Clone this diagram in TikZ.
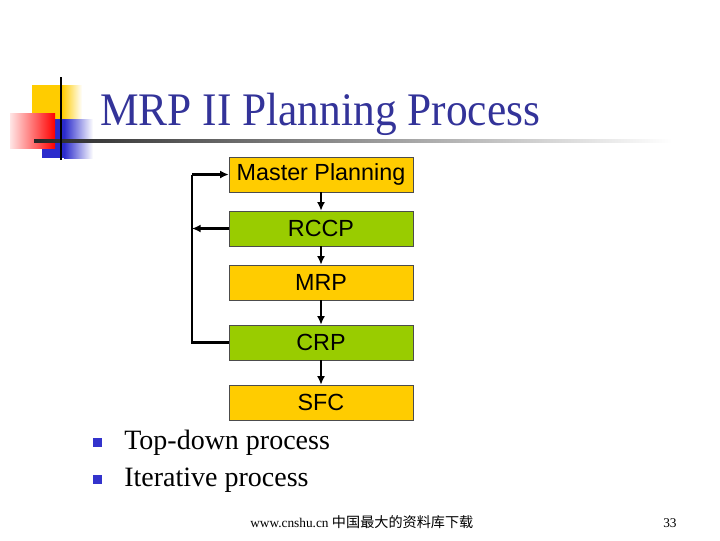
\documentclass[tikz,border=0pt]{standalone}
\usepackage{fontspec}
\setmainfont{Liberation Serif}
\newfontfamily\boxfont{Liberation Sans}
\newfontfamily\cjkfont{Noto Sans CJK SC}
\usetikzlibrary{arrows.meta}
\definecolor{slideyellow}{HTML}{FFCC00}
\definecolor{slidegreen}{HTML}{99CC00}
\definecolor{titleblue}{HTML}{333399}
\definecolor{bulletblue}{HTML}{3333CC}
\definecolor{decored}{HTML}{FF0000}
\definecolor{decoblue}{HTML}{2B2BCC}
\tikzset{
  stage/.style={
    rectangle,
    draw=black!70,
    thin,
    align=center,
    minimum width=138pt,
    minimum height=26.25pt,
    inner sep=0pt,
    font=\boxfont\fontsize{17.5}{20}\selectfont
  },
  yellowstage/.style={stage, fill=slideyellow},
  greenstage/.style={stage, fill=slidegreen},
  flow/.style={-{Latex[length=6.5pt,width=6pt]}, line width=1.7pt},
  feedback/.style={line width=1.7pt},
  bullettext/.style={anchor=base west, inner sep=0pt, font=\fontsize{21}{24}\selectfont},
  bulletmark/.style={fill=bulletblue, draw=none, minimum size=6.75pt, inner sep=0pt},
  footer/.style={anchor=base west, inner sep=0pt, font=\fontsize{10}{12}\selectfont}
}

\begin{document}
\begin{tikzpicture}[x=0.75pt,y=-0.75pt]
\useasboundingbox (0,0) rectangle (720,540);

% title decoration
\fill[slideyellow] (32,85) rectangle (62,120);
\shade[left color=slideyellow, right color=white] (62,85) rectangle (82,120);
\fill[decoblue] (42,119) rectangle (64,158);
\shade[left color=decoblue, right color=white] (64,119) rectangle (93,158);
\shade[left color=decored!10, right color=decored] (10,113) rectangle (55,148);
\shade[left color=black!85, right color=white] (34,139.5) rectangle (672,142.5);
\fill[black] (59.8,77) rectangle (62.2,160);

\node[anchor=base west, inner sep=0pt, xscale=0.93, text=titleblue,
  font=\fontsize{35}{40}\selectfont] (title) at (100,125) {MRP II Planning Process};

% planning stages
\node[yellowstage] (master) at (321,174.5) {Master Planning};
\node[greenstage] (rccp) at (321,228.5) {RCCP};
\node[yellowstage] (mrp) at (321,282.5) {MRP};
\node[greenstage] (crp) at (321,342.5) {CRP};
\node[yellowstage] (sfc) at (321,402.5) {SFC};

\coordinate (looptop) at (192,174.5);
\coordinate (looprccp) at (192,228.5);
\coordinate (loopbot) at (192,342.5);

\draw[flow] (master) -- (rccp);
\draw[flow] (rccp) -- (mrp);
\draw[flow] (mrp) -- (crp);
\draw[flow] (crp) -- (sfc);
\draw[feedback] (crp.west) -- (loopbot) -- (looptop);
\draw[flow] (looptop) -- (master.west);
\draw[flow] (rccp.west) -- (looprccp);

% bullets
\node[bulletmark] (markone) at (97.5,442.5) {};
\node[bulletmark] (marktwo) at (97.5,479.5) {};
\node[bullettext] (topdown) at (124,449) {Top-down process};
\node[bullettext] (iterative) at (124,486) {Iterative process};

% footer
\node[footer] (site) at (250,527) {www.cnshu.cn {\cjkfont\fontsize{10.6}{12}\selectfont 中国最大的资料库下载}};
\node[footer] (page) at (663,527) {33};
\end{tikzpicture}
\end{document}
